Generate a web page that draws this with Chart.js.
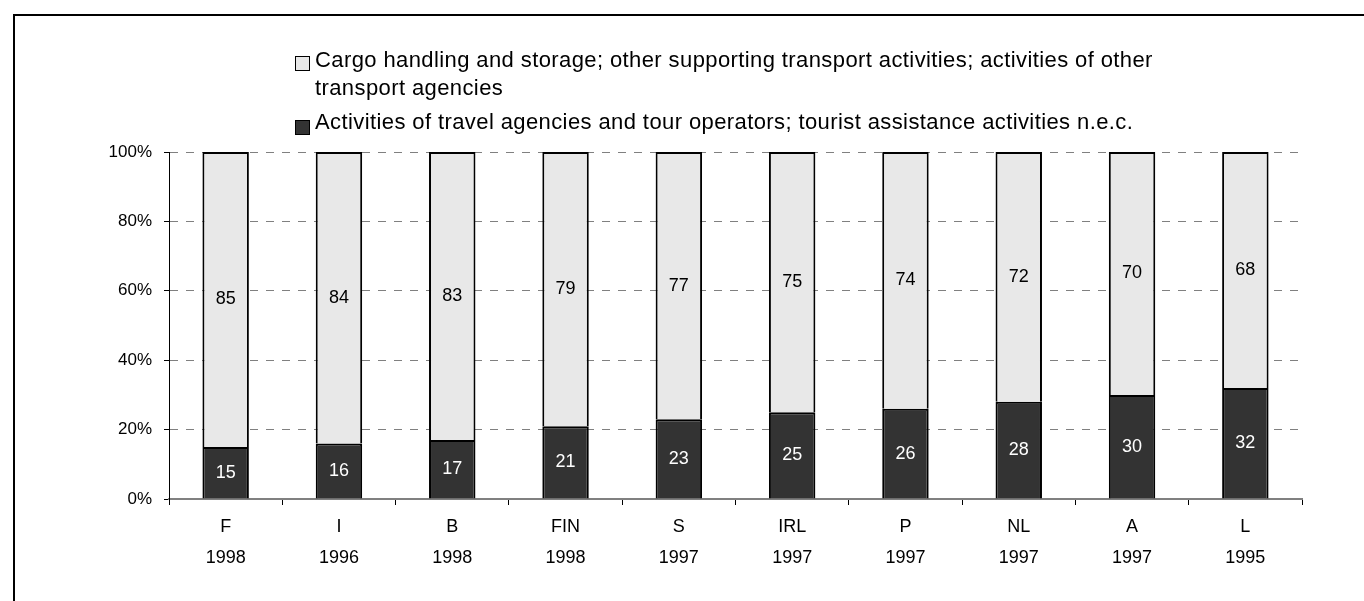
<!DOCTYPE html>
<html>
<head>
<meta charset="utf-8">
<script src="https://cdn.jsdelivr.net/npm/chart.js@4/dist/chart.umd.min.js"></script>
<style>
  html, body { margin: 0; padding: 0; width: 1364px; height: 601px; overflow: hidden; background: #fff; }
  #wrap { position: relative; width: 1364px; height: 601px; }
  #frame { position: absolute; left: 13px; top: 14px; width: 1400px; height: 700px; border: 2px solid #000; box-sizing: border-box; }
  canvas { position: absolute; left: 0; top: 0; }
  .lg { position: absolute; font-family: "Liberation Sans", Arial, sans-serif; font-size: 22px; line-height: 28px; color: #000; white-space: nowrap; letter-spacing: 0.4px; }
  .box { position: absolute; width: 15px; height: 15px; box-sizing: border-box; border: 1px solid #000; }
</style>
</head>
<body>
<div id="wrap">
  <div id="frame"></div>
  <canvas id="c" width="1364" height="601"></canvas>
  <div class="box" id="box1" style="left:295px; top:56px; background:#e8e8e8;"></div>
  <div class="lg" id="lg1" style="left:315px; top:46px;"></div>
  <div class="box" id="box2" style="left:295px; top:120px; background:#333333;"></div>
  <div class="lg" id="lg2" style="left:315px; top:108px;"></div>
</div>
<script>
const countries = ['F', 'I', 'B', 'FIN', 'S', 'IRL', 'P', 'NL', 'A', 'L'];
const years = ['1998', '1996', '1998', '1998', '1997', '1997', '1997', '1997', '1997', '1995'];
const travelAgencies = [15, 16, 17, 21, 23, 25, 26, 28, 30, 32];
const cargoHandling = [85, 84, 83, 79, 77, 75, 74, 72, 70, 68];
const yTicks = [0, 20, 40, 60, 80, 100];
const seriesNames = [
  'Cargo handling and storage; other supporting transport activities; activities of other transport agencies',
  'Activities of travel agencies and tour operators; tourist assistance activities n.e.c.'
];

document.getElementById('lg1').innerHTML = 'Cargo handling and storage; other supporting transport activities; activities of other<br>transport agencies';
document.getElementById('lg2').textContent = seriesNames[1];

const labels = countries.map((c, i) => [c, years[i]]);

const valueLabels = {
  id: 'valueLabels',
  afterDatasetsDraw(chart) {
    const ctx = chart.ctx;
    ctx.save();
    ctx.font = '18px "Liberation Sans", Arial, sans-serif';
    ctx.textAlign = 'center';
    ctx.textBaseline = 'middle';
    chart.data.datasets.forEach((ds, di) => {
      const meta = chart.getDatasetMeta(di);
      meta.data.forEach((el, i) => {
        const y = (el.y + el.base) / 2;
        ctx.fillStyle = ds.labelColor;
        ctx.fillText(String(ds.data[i]), el.x, y);
      });
    });
    ctx.restore();
  }
};

Chart.defaults.font.family = '"Liberation Sans", Arial, sans-serif';
Chart.defaults.color = '#000';

new Chart(document.getElementById('c'), {
  type: 'bar',
  data: {
    labels: labels,
    datasets: [
      {
        label: seriesNames[1],
        data: travelAgencies,
        backgroundColor: '#333333',
        borderColor: '#000',
        borderWidth: 2,
        labelColor: '#fff',
        categoryPercentage: 1,
        barPercentage: 0.41
      },
      {
        label: seriesNames[0],
        data: cargoHandling,
        backgroundColor: '#e8e8e8',
        borderColor: '#000',
        borderWidth: 2,
        labelColor: '#000',
        categoryPercentage: 1,
        barPercentage: 0.41
      }
    ]
  },
  options: {
    responsive: false,
    animation: false,
    layout: { padding: { left: 0, right: 62, top: 152, bottom: 0 } },
    plugins: {
      legend: { display: false },
      tooltip: { enabled: false }
    },
    scales: {
      x: {
        stacked: true,
        grid: { drawOnChartArea: false, drawTicks: true, tickLength: 6, tickColor: '#000', tickWidth: 1 },
        border: { color: '#808080', width: 2 },
        ticks: { font: { size: 18, lineHeight: 1.72 }, padding: 7, maxRotation: 0, autoSkip: false },
        afterFit(scale) { scale.height = 102; }
      },
      y: {
        stacked: true,
        min: 0,
        max: 100,
        afterBuildTicks(scale) { scale.ticks = yTicks.map(v => ({ value: v })); },
        grid: { color: '#808080', lineWidth: 1, tickColor: '#000', tickLength: 5, tickWidth: 1 },
        border: { color: '#000', width: 1, dash: [8, 8] },
        ticks: { font: { size: 17 }, padding: 12, callback: v => v + '%' },
        afterFit(scale) { scale.width = 169; }
      }
    }
  },
  plugins: [valueLabels]
});
</script>
</body>
</html>
